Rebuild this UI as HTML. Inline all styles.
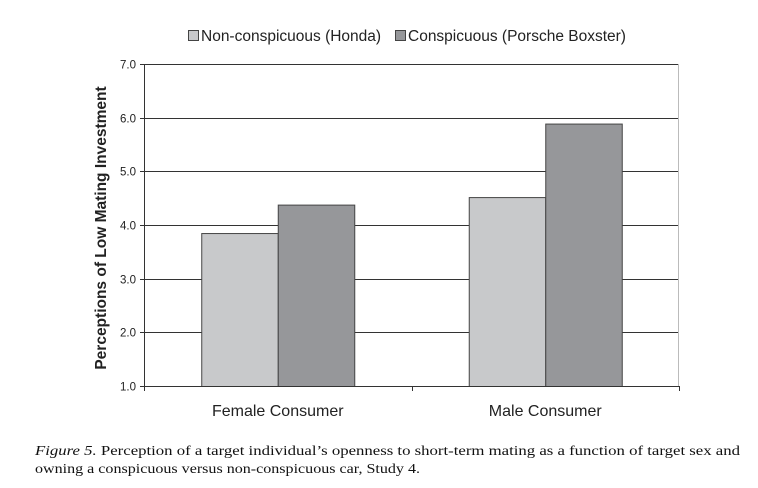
<!DOCTYPE html>
<html><head><meta charset="utf-8"><style>
html,body{margin:0;padding:0;background:#fff;}
svg{display:block;}
</style></head><body>
<svg id="chart" width="758" height="488" viewBox="0 0 758 488" xmlns="http://www.w3.org/2000/svg" font-family="Liberation Sans, sans-serif">
<g>
  <rect x="188.5" y="30.5" width="10" height="10" fill="#c8c9cb" stroke="#444"/>
  <text x="201" y="41" font-size="15.5" fill="#222">Non-conspicuous (Honda)</text>
  <rect x="395.5" y="30.5" width="10" height="10" fill="#96979a" stroke="#444"/>
  <text x="408" y="41" font-size="15.5" fill="#222">Conspicuous (Porsche Boxster)</text>
</g>
<g id="grid"></g>
<g id="bars"></g>
<g id="axes"></g>
<text transform="translate(106,228) rotate(-90)" text-anchor="middle" font-size="15.5" font-weight="bold" fill="#222">Perceptions of Low Mating Investment</text>
<g font-family="Liberation Serif, serif" font-size="14" fill="#111">
  <text x="35" y="455" textLength="705" lengthAdjust="spacingAndGlyphs"><tspan font-style="italic">Figure 5.</tspan>   Perception of a target individual’s openness to short-term mating as a function of target sex and</text>
  <text x="35" y="473" textLength="385" lengthAdjust="spacingAndGlyphs">owning a conspicuous versus non-conspicuous car, Study 4.</text>
</g>
</svg>
<script>
const categories = ["Female Consumer", "Male Consumer"];
const hondaValues = [3.85, 4.52];
const porscheValues = [4.38, 5.89];
const yTicks = [1.0, 2.0, 3.0, 4.0, 5.0, 6.0, 7.0];

const NS = "http://www.w3.org/2000/svg";
const X0 = 144, X1 = 679, Y0 = 386, Y1 = 64, VMIN = 1, VMAX = 7;
function yScale(v){ return Y0 - (v - VMIN) / (VMAX - VMIN) * (Y0 - Y1); }
const bandW = (X1 - X0) / categories.length;
function bandX(i){ return X0 + i * bandW; }
const barW = bandW * 0.286, groupPad = (bandW - 2 * barW) / 2;
function mk(tag, attrs, parent){ const e = document.createElementNS(NS, tag); for (const k in attrs) e.setAttribute(k, attrs[k]); parent.appendChild(e); return e; }

const grid = document.getElementById('grid');
const axes = document.getElementById('axes');
const bars = document.getElementById('bars');

yTicks.forEach(t => {
  const y = Math.round(yScale(t)) + 0.5;
  if (t > VMIN) {
    const g = mk('line', {x1: X0, x2: X1, y1: y, y2: y, stroke: '#333', 'stroke-width': 1}, grid);
    
    
  }
  const tk = mk('line', {x1: X0 - 4, x2: X0, y1: y, y2: y, stroke: '#333'}, axes);
  
  
  const lb = mk('text', {x: X0 - 8, y: y + 4, 'text-anchor': 'end', 'font-size': 11.5, fill: '#222'}, axes);
  lb.textContent = t.toFixed(1);
  
  
});
const rb = mk('line', {x1: X1 - 0.5, x2: X1 - 0.5, y1: Y1, y2: Y0, stroke: '#bbb'}, grid);



categories.forEach((c, i) => {
  const bx = bandX(i) + groupPad;
  [[hondaValues[i], '#c8c9cb', 'bar-honda'], [porscheValues[i], '#96979a', 'bar-porsche']].forEach((s, j) => {
    const y = yScale(s[0]);
    const r = mk('rect', {x: bx + j * barW + 0.5, y: y + 0.5, width: barW, height: Y0 - y, fill: s[1], stroke: '#444', 'stroke-width': 1}, bars);
    
    
  });
  const lb = mk('text', {x: bandX(i) + bandW / 2, y: 416, 'text-anchor': 'middle', 'font-size': 16, fill: '#222'}, axes);
  lb.textContent = c;
  
  
});
for (let i = 0; i <= categories.length; i++) {
  const x = Math.round(bandX(i)) + 0.5;
  const tk = mk('line', {x1: x, x2: x, y1: Y0, y2: Y0 + 5, stroke: '#333'}, axes);
  
  
}
const ya = mk('line', {x1: X0 + 0.5, x2: X0 + 0.5, y1: Y1, y2: Y0, stroke: '#333'}, axes);


const xa = mk('line', {x1: X0, x2: X1, y1: Y0 + 0.5, y2: Y0 + 0.5, stroke: '#333'}, axes);


</script>
</body></html>
